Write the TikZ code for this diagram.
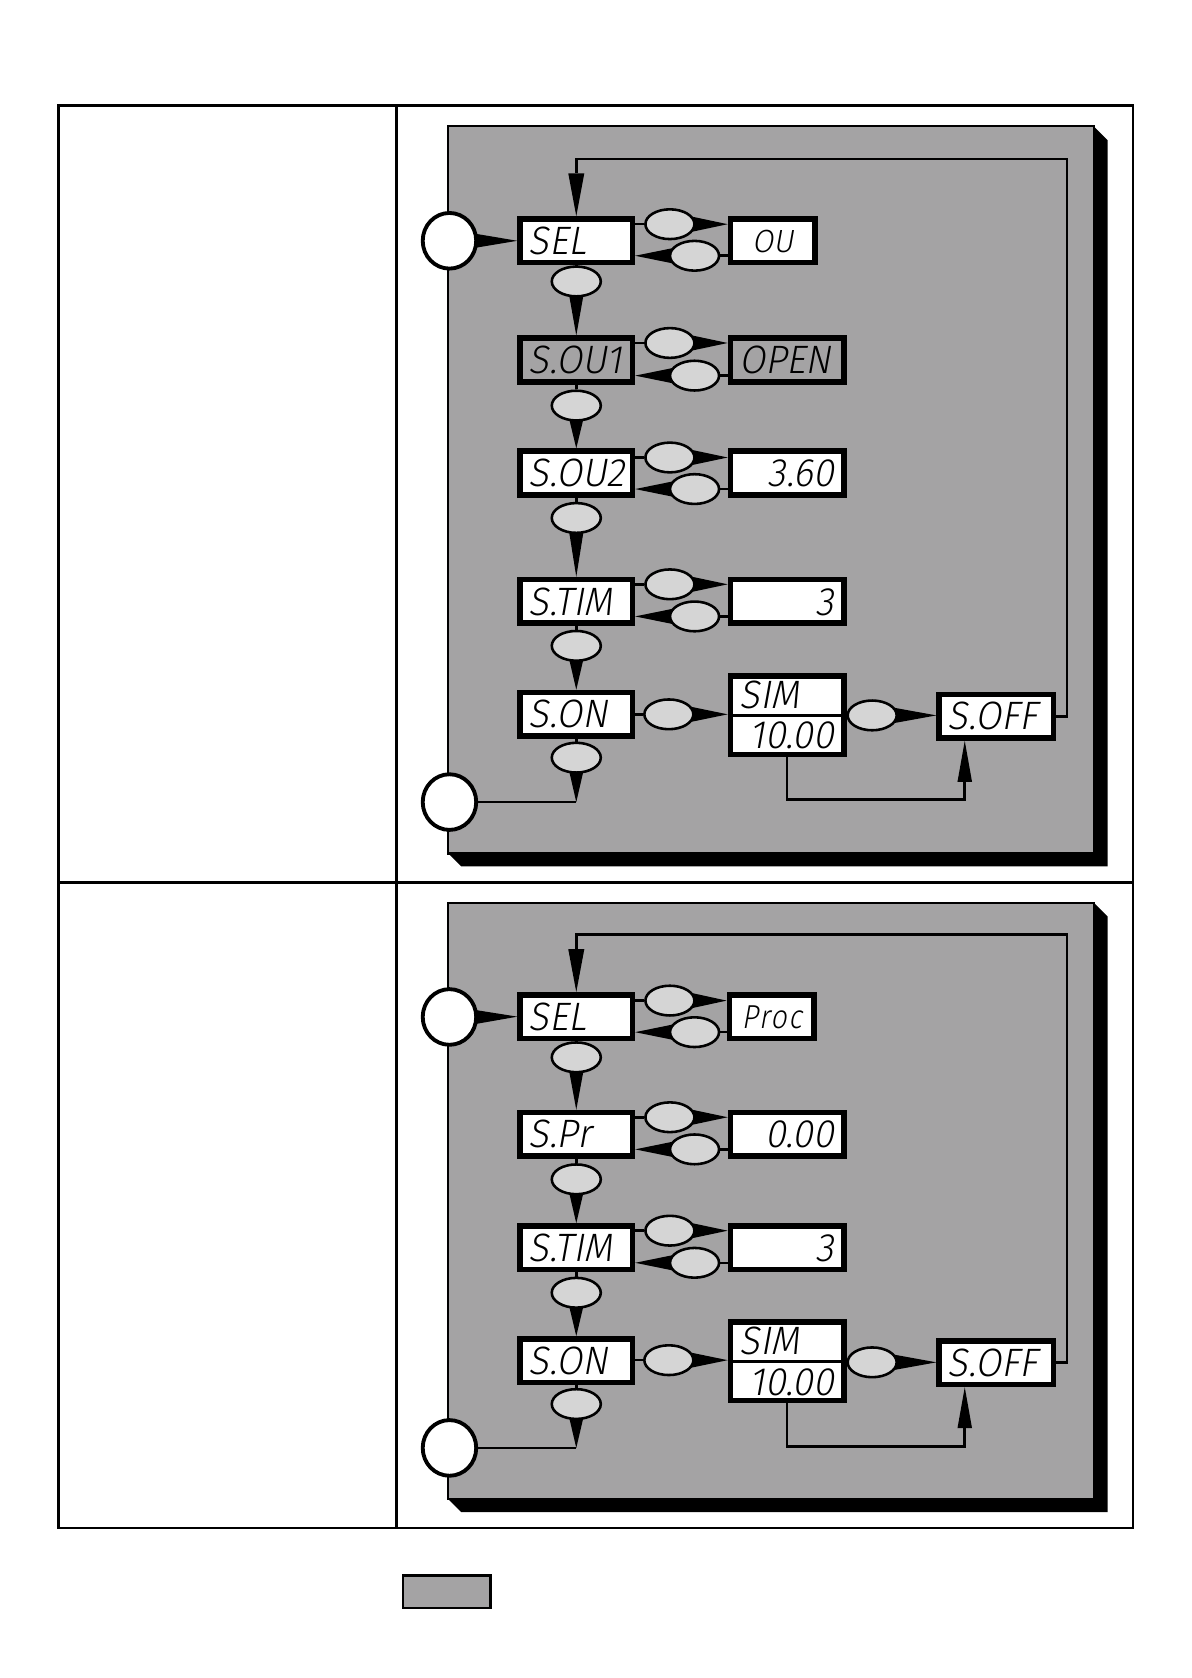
\documentclass[tikz,border=0pt]{standalone}
\usepackage{fontspec}
\usetikzlibrary{shapes.geometric,calc}
\newfontfamily\lcdfont{Fira Sans Light}[FakeStretch=0.95,FakeSlant=0.18]
\newfontfamily\lcdwide{Fira Sans Light}[FakeStretch=0.86,FakeSlant=0.18,LetterSpace=5]
\definecolor{panelgray}{RGB}{164,163,164}
\definecolor{btngray}{RGB}{213,213,213}
\pgfdeclarelayer{back}
\pgfdeclarelayer{mid}
\pgfsetlayers{back,mid,main}
% wedge: start #1, tip #2, half base width #3, inset of base behind start #4
\newcommand{\wedgearrow}[4]{%
  \coordinate (wS) at ($(#1)!-#4!(#2)$);
  \fill[black] ($(wS)!#3!90:(#2)$) -- (#2) -- ($(wS)!#3!-90:(#2)$) -- cycle;}
\newcommand{\drawpanel}[4]{%
  \begin{pgfonlayer}{back}
  \fill[black] (#3,#2) -- (#3+13,#2+13) -- (#3+13,#4+12) -- (#1+12,#4+12) -- (#1,#4) -- cycle;
  \draw[line width=1pt, fill=panelgray] (#1,#2) rectangle (#3,#4);
  \end{pgfonlayer}}
\tikzset{
  lcd/.style={draw=black, line width=2.6pt, fill=white, minimum height=20.4pt,
    inner xsep=4pt, inner ysep=0pt, text height=12.7pt, text depth=0pt,
    font=\lcdfont\fontsize{18.5}{18.5}\selectfont},
  lbox/.style={lcd, text width=44.4pt, align=left},
  lboxw/.style={lcd, text width=44.9pt, align=left},
  offbox/.style={lcd, text width=45.4pt, align=left},
  rbox/.style={lcd, text width=43.9pt, inner xsep=4.5pt, align=right},
  nbox/.style={lcd, text width=30.4pt, inner xsep=4.5pt, align=center, text height=10.5pt,
    font=\lcdfont\fontsize{15}{15}\selectfont},
  lcdtxt/.style={inner sep=0pt, text height=12.7pt, text depth=0pt,
    font=\lcdfont\fontsize{18.5}{18.5}\selectfont},
  btn/.style={ellipse, draw=black, line width=1.2pt, fill=btngray,
    minimum width=22.9pt, minimum height=13.9pt, inner sep=0pt},
  keyc/.style={ellipse, draw=black, line width=1.8pt, fill=white,
    minimum width=25pt, minimum height=26pt, inner sep=0pt},
  conn/.style={line width=1.2pt},
  tbl/.style={line width=1.2pt},
}
% wedge shorthands
\newcommand{\hw}[2]{\wedgearrow{#1}{#2}{3.8pt}{3pt}}
\newcommand{\vw}[2]{\wedgearrow{#1}{#2}{3.5pt}{2pt}}
\begin{document}
\begin{tikzpicture}[x=0.5pt,y=-0.5pt]
\useasboundingbox (0,0) rectangle (1113,1568);
% table
\draw[tbl] (54.5,98.6) rectangle (1058.8,1428);
\draw[tbl] (370.4,98.6) -- (370.4,1428);
\draw[tbl] (54.5,824.4) -- (1058.8,824.4);
% legend
\node[draw=black, line width=1.25pt, fill=panelgray, minimum width=40.8pt, minimum height=15.1pt, inner sep=0pt] (legend) at (417.5,1487.5) {};

% ================= panel 1
\drawpanel{419}{118}{1022}{797.5}
\node[keyc] (c1) at (420,225) {};
\node[lbox] (sel) at (538.5,225) {SEL};
\node[nbox] (ou) at (722,225) {OU};
\node[btn] (b1) at (626,209.5) {};
\node[btn] (b2) at (649,239) {};
\node[btn] (d1) at (538.5,263) {};
\node[lbox, fill=panelgray] (sou1) at (538.5,336.5) {S.OU1};
\node[lboxw, fill=panelgray] (open) at (735.5,336.5) {OPEN};
\node[btn] (b3) at (626,320.5) {};
\node[btn] (b4) at (649,351) {};
\node[btn] (d2) at (538.5,379) {};
\node[lbox] (sou2) at (538.5,442) {S.OU2};
\node[rbox] (v360) at (735.5,442) {3.60};
\node[btn] (b5) at (626,427.5) {};
\node[btn] (b6) at (649,457) {};
\node[btn] (d3) at (538.5,484) {};
\node[lbox] (stim) at (538.5,562) {S.TIM};
\node[rbox] (v3) at (735.5,562) {3};
\node[btn] (b7) at (626,546) {};
\node[btn] (b8) at (649,576) {};
\node[btn] (d4) at (538.5,603.5) {};
\node[lbox] (son) at (538.5,667.5) {S.ON};
\node[btn] (r1) at (625,667.5) {};
\node[lcd, minimum width=52.9pt, minimum height=36.7pt] (sim) at (735.5,668.3) {};
\draw[line width=1.3pt] (sim.west) -- (sim.east);
\node[lcdtxt, anchor=west] (simt) at (691,649.5) {SIM};
\node[lcdtxt, anchor=east] (simb) at (780,687) {10.00};
\node[btn] (r2) at (815,668.5) {};
\node[offbox] (soff) at (931,669.3) {S.OFF};
\node[btn] (d5) at (538.5,708) {};
\node[keyc] (c2) at (420,749.5) {};
% connectors panel 1
\begin{pgfonlayer}{mid}
\wedgearrow{c1.east}{sel.west}{3.4pt}{2pt}
\draw[conn] (sel.east |- b1) -- (b1.west);
\hw{b1.east}{ou.west |- b1}
\draw[conn] (b2.east) -- (ou.west |- b2);
\hw{b2.west}{sel.east |- b2}
\draw[conn] (sel.south) -- (d1.north);
\vw{d1.south}{sou1.north}
\draw[conn] (sou1.east |- b3) -- (b3.west);
\hw{b3.east}{open.west |- b3}
\draw[conn] (b4.east) -- (open.west |- b4);
\hw{b4.west}{sou1.east |- b4}
\draw[conn] (sou1.south) -- (d2.north);
\vw{d2.south}{sou2.north}
\draw[conn] (sou2.east |- b5) -- (b5.west);
\hw{b5.east}{v360.west |- b5}
\draw[conn] (b6.east) -- (v360.west |- b6);
\hw{b6.west}{sou2.east |- b6}
\draw[conn] (sou2.south) -- (d3.north);
\vw{d3.south}{stim.north}
\draw[conn] (stim.east |- b7) -- (b7.west);
\hw{b7.east}{v3.west |- b7}
\draw[conn] (b8.east) -- (v3.west |- b8);
\hw{b8.west}{stim.east |- b8}
\draw[conn] (stim.south) -- (d4.north);
\vw{d4.south}{son.north}
\draw[conn] (son.east |- r1) -- (r1.west);
\hw{r1.east}{sim.west |- r1}
\draw[conn] (sim.east |- r2) -- (r2.west);
\hw{r2.east}{soff.west |- r2}
\draw[conn] (son.south) -- (d5.north);
\vw{d5.south}{d5.south |- c2}
\draw[conn] (c2.east) -- (d5.south |- c2);
\coordinate (g1) at (901.5,747);
\coordinate (g2) at (901.5,730.5);
\draw[conn] (sim.south) |- (g1) -- (g2);
\wedgearrow{g2}{g2 |- soff.south}{3.4pt}{0pt}
\coordinate (f1a) at (538.5,148.4);
\coordinate (f1b) at (997,148.4);
\coordinate (f1w) at (538.5,162);
\draw[conn] (soff.east) -| (f1b) -- (f1a) -- (f1w);
\wedgearrow{f1w}{sel.north}{3.75pt}{0pt}
\end{pgfonlayer}

% ================= panel 2
\drawpanel{419}{843.5}{1022}{1401}
\node[keyc] (c3) at (420,950.3) {};
\node[lbox] (sel2) at (538.5,950) {SEL};
\node[nbox, text height=11pt, font=\lcdwide\fontsize{15.5}{15.5}\selectfont] (proc) at (721,950) {Proc};
\node[btn] (b9) at (626,935) {};
\node[btn] (b10) at (649,964.5) {};
\node[btn] (d6) at (538.5,988) {};
\node[lbox] (spr) at (538.5,1060) {S.Pr};
\node[rbox] (v000) at (735.5,1060) {0.00};
\node[btn] (b11) at (626,1044) {};
\node[btn] (b12) at (649,1074) {};
\node[btn] (d7) at (538.5,1102) {};
\node[lbox] (stim2) at (538.5,1166) {S.TIM};
\node[rbox] (v3b) at (735.5,1166) {3};
\node[btn] (b13) at (626,1150) {};
\node[btn] (b14) at (649,1180) {};
\node[btn] (d8) at (538.5,1208) {};
\node[lbox] (son2) at (538.5,1271.5) {S.ON};
\node[btn] (r3) at (625,1271) {};
\node[lcd, minimum width=52.9pt, minimum height=36.7pt] (sim2) at (735.5,1272) {};
\draw[line width=1.3pt] (sim2.west) -- (sim2.east);
\node[lcdtxt, anchor=west] (simt2) at (691,1253) {SIM};
\node[lcdtxt, anchor=east] (simb2) at (780,1291) {10.00};
\node[btn] (r4) at (815,1273) {};
\node[offbox] (soff2) at (931,1273.3) {S.OFF};
\node[btn] (d9) at (538.5,1312) {};
\node[keyc] (c4) at (420,1353) {};
% connectors panel 2
\begin{pgfonlayer}{mid}
\wedgearrow{c3.east}{sel2.west}{3.4pt}{2pt}
\draw[conn] (sel2.east |- b9) -- (b9.west);
\hw{b9.east}{proc.west |- b9}
\draw[conn] (b10.east) -- (proc.west |- b10);
\hw{b10.west}{sel2.east |- b10}
\draw[conn] (sel2.south) -- (d6.north);
\vw{d6.south}{spr.north}
\draw[conn] (spr.east |- b11) -- (b11.west);
\hw{b11.east}{v000.west |- b11}
\draw[conn] (b12.east) -- (v000.west |- b12);
\hw{b12.west}{spr.east |- b12}
\draw[conn] (spr.south) -- (d7.north);
\vw{d7.south}{stim2.north}
\draw[conn] (stim2.east |- b13) -- (b13.west);
\hw{b13.east}{v3b.west |- b13}
\draw[conn] (b14.east) -- (v3b.west |- b14);
\hw{b14.west}{stim2.east |- b14}
\draw[conn] (stim2.south) -- (d8.north);
\vw{d8.south}{son2.north}
\draw[conn] (son2.east |- r3) -- (r3.west);
\hw{r3.east}{sim2.west |- r3}
\draw[conn] (sim2.east |- r4) -- (r4.west);
\hw{r4.east}{soff2.west |- r4}
\draw[conn] (son2.south) -- (d9.north);
\vw{d9.south}{d9.south |- c4}
\draw[conn] (c4.east) -- (d9.south |- c4);
\coordinate (g3) at (901.5,1351.5);
\coordinate (g4) at (901.5,1334.5);
\draw[conn] (sim2.south) |- (g3) -- (g4);
\wedgearrow{g4}{g4 |- soff2.south}{3.4pt}{0pt}
\coordinate (f2a) at (538.5,873);
\coordinate (f2b) at (997,873);
\coordinate (f2w) at (538.5,887);
\draw[conn] (soff2.east) -| (f2b) -- (f2a) -- (f2w);
\wedgearrow{f2w}{sel2.north}{3.75pt}{0pt}
\end{pgfonlayer}
\end{tikzpicture}
\end{document}
